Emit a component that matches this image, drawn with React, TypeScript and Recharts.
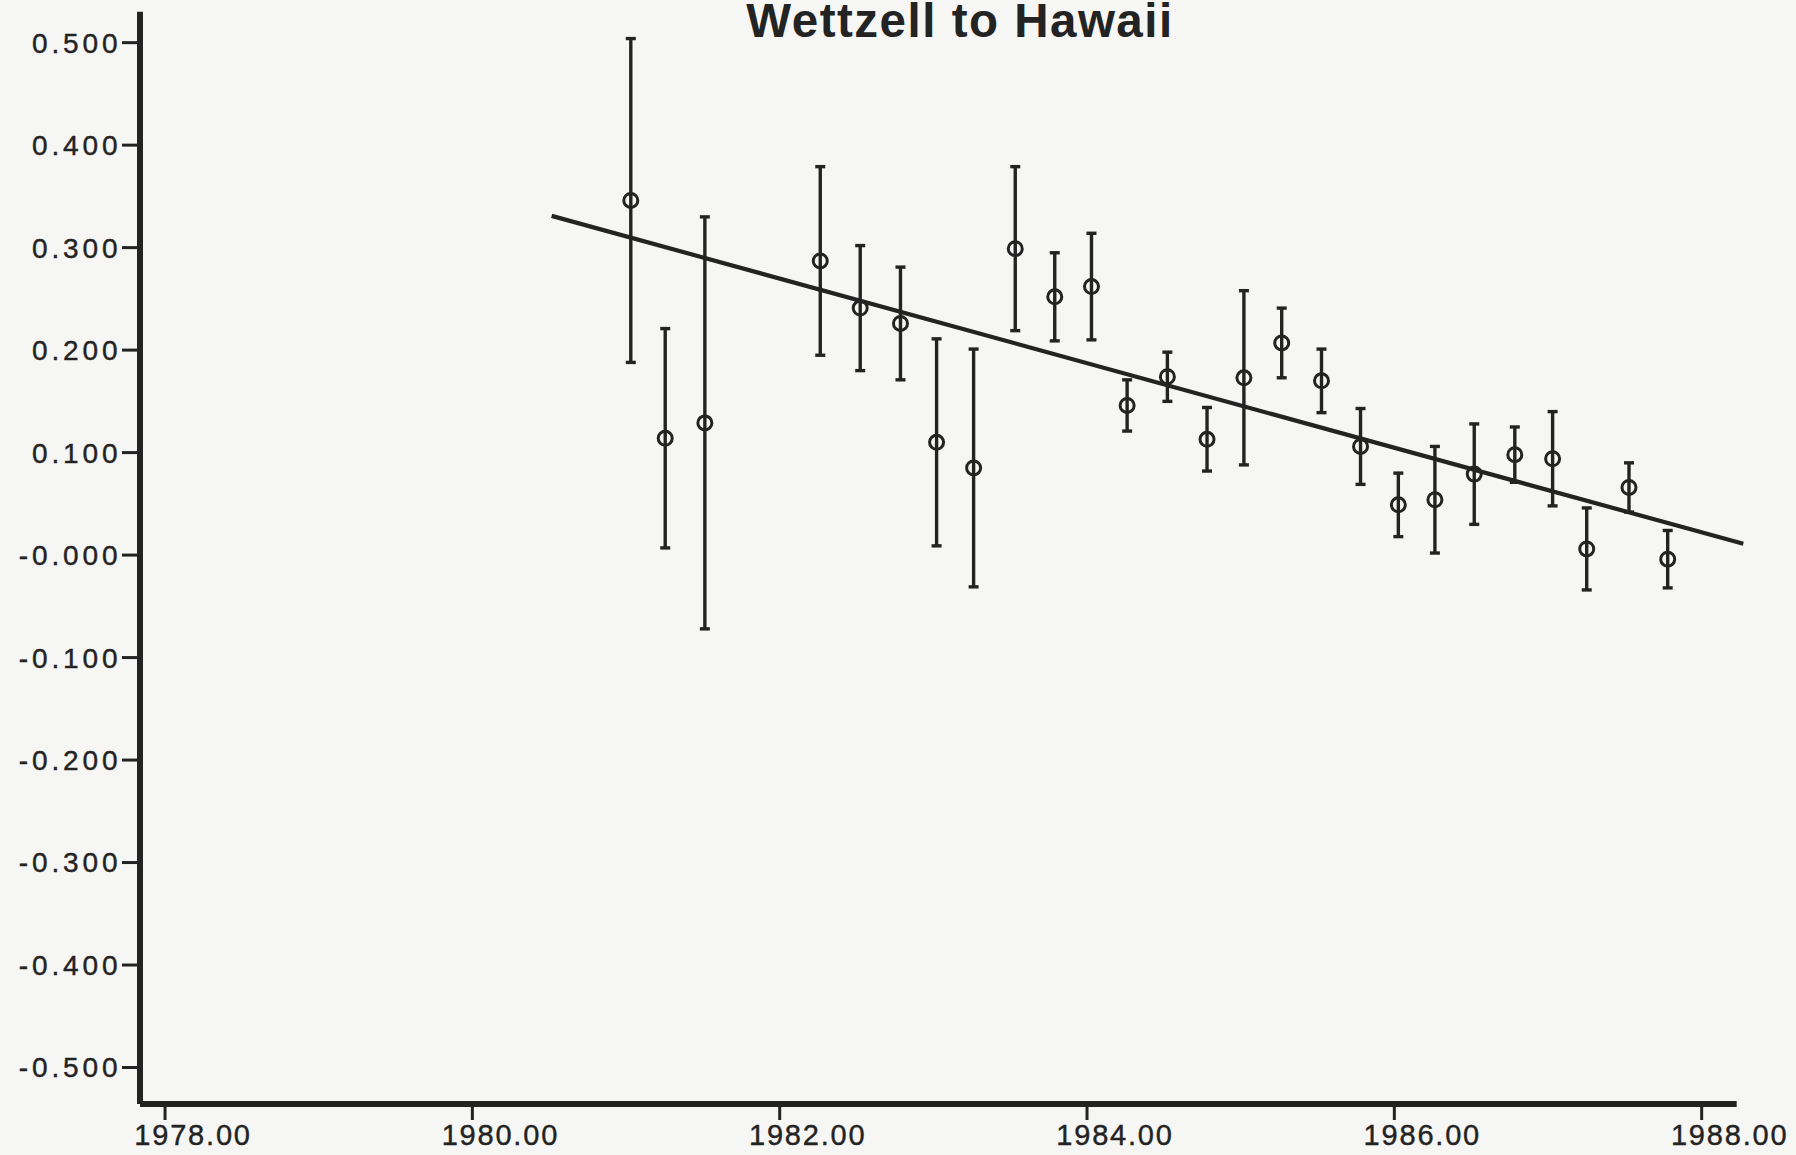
import React from 'react';
import { ComposedChart, Scatter, XAxis, YAxis, ErrorBar, ReferenceLine } from 'recharts';

const title = 'Wettzell to Hawaii';

const years = [
  1981.031, 1981.255, 1981.513, 1982.264, 1982.524, 1982.786, 1983.021, 1983.262,
  1983.533, 1983.79, 1984.029, 1984.261, 1984.523, 1984.781, 1985.021, 1985.267,
  1985.526, 1985.78, 1986.026, 1986.264, 1986.52, 1986.784, 1987.03, 1987.252,
  1987.527, 1987.779,
];
const values = [
  0.346, 0.114, 0.129, 0.287, 0.241, 0.226, 0.11, 0.085,
  0.299, 0.252, 0.262, 0.146, 0.174, 0.113, 0.173, 0.207,
  0.17, 0.106, 0.049, 0.054, 0.079, 0.098, 0.094, 0.006,
  0.066, -0.004,
];
const errors = [
  0.158, 0.107, 0.201, 0.092, 0.061, 0.055, 0.101, 0.116,
  0.08, 0.043, 0.052, 0.025, 0.024, 0.031, 0.085, 0.034,
  0.031, 0.037, 0.031, 0.052, 0.049, 0.027, 0.046, 0.04,
  0.024, 0.028,
];

const trendYears = [1980.516, 1988.271];
const trendValues = [0.331, 0.011];

const xTicks = [1978, 1980, 1982, 1984, 1986, 1988];
const xTickLabels = ['1978.00', '1980.00', '1982.00', '1984.00', '1986.00', '1988.00'];
const yTicks = [0.5, 0.4, 0.3, 0.2, 0.1, 0, -0.1, -0.2, -0.3, -0.4, -0.5];
const yTickLabels = ['0.500', '0.400', '0.300', '0.200', '0.100', '-0.000', '-0.100', '-0.200', '-0.300', '-0.400', '-0.500'];

const data = years.map((x, i) => ({ x, y: values[i], err: errors[i] }));

const INK = '#232323';
const FONT = '"Liberation Sans", Arial, Helvetica, sans-serif';
const W = 1796;
const H = 1155;

const XTick = (props: any) => {
  const { x, y, index } = props;
  return (
    <text x={x + 28} y={y} dy={23} textAnchor="middle" fontFamily={FONT} fontSize={29} letterSpacing={1.8}
      fill={INK} stroke={INK} strokeWidth={0.4}>
      {xTickLabels[index]}
    </text>
  );
};

const YTick = (props: any) => {
  const { x, y, index } = props;
  return (
    <text x={x + 1.5} y={y} dy="0.355em" textAnchor="end" fontFamily={FONT} fontSize={28} letterSpacing={3.9}
      fill={INK} stroke={INK} strokeWidth={0.4}>
      {yTickLabels[index]}
    </text>
  );
};

const Marker = (props: any) => {
  const { cx, cy } = props;
  return <circle cx={cx} cy={cy} r={7} fill="none" stroke={INK} strokeWidth={3} />;
};

export default function App() {
  return (
    <div style={{ position: 'fixed', left: 0, top: 0, width: W, height: H, background: '#f6f6f4' }}>
      <ComposedChart
        width={W}
        height={H}
        data={data}
        margin={{ top: 11.7, right: 59.3, left: 0, bottom: 0 }}
      >
        <XAxis
          type="number"
          dataKey="x"
          domain={[1977.837, 1988.228]}
          allowDataOverflow
          ticks={xTicks}
          tick={<XTick />}
          tickSize={16}
          tickMargin={2}
          height={51}
          axisLine={{ stroke: INK, strokeWidth: 6 }}
          tickLine={{ stroke: INK, strokeWidth: 3 }}
        />
        <YAxis
          type="number"
          dataKey="y"
          domain={[-0.5356, 0.5302]}
          allowDataOverflow
          ticks={yTicks}
          tick={<YTick />}
          tickSize={18}
          tickMargin={2}
          width={140}
          axisLine={{ stroke: INK, strokeWidth: 6 }}
          tickLine={{ stroke: INK, strokeWidth: 3 }}
        />
        <ReferenceLine
          segment={[
            { x: trendYears[0], y: trendValues[0] },
            { x: trendYears[1], y: trendValues[1] },
          ]}
          stroke={INK}
          strokeWidth={4.2}
          ifOverflow="visible"
        />
        <Scatter data={data} dataKey="y" shape={<Marker />} isAnimationActive={false}>
          <ErrorBar dataKey="err" direction="y" width={5} stroke={INK} strokeWidth={3.4} />
        </Scatter>
      </ComposedChart>
      <svg width={W} height={H} style={{ position: 'absolute', left: 0, top: 0, pointerEvents: 'none' }}>
        <text x={960} y={37} textAnchor="middle" fontFamily={FONT} fontWeight="bold" fontSize={47.5} letterSpacing={1.5} fill={INK}>
          {title}
        </text>
      </svg>
    </div>
  );
}
